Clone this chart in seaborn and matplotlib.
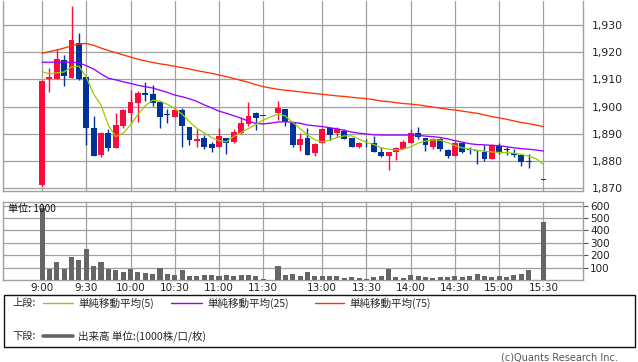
import numpy as np
import pandas as pd
import matplotlib
matplotlib.use("Agg")
import matplotlib.pyplot as plt
import seaborn as sns
from matplotlib.patches import Rectangle
from matplotlib.lines import Line2D

# ---------------- data ----------------
candle_slots = list(range(0, 31)) + list(range(32, 67)) + [68]
opens = [1871.0, 1910.1, 1910.1, 1917.1, 1910.6, 1923.5, 1910.7, 1892.2, 1882.2, 1890.1,
         1884.8, 1892.8, 1897.7, 1901.4, 1904.8, 1904.5, 1901.8, 1897.2, 1896.3, 1898.7,
         1892.6, 1887.3, 1888.5, 1886.2, 1885.2, 1888.3, 1886.8, 1890.1, 1893.6, 1897.5,
         1896.5,
         1897.7, 1899.1, 1893.8, 1885.8, 1888.5, 1882.8, 1886.5, 1892.0, 1890.1, 1891.1,
         1888.3, 1885.0, 1886.6, 1886.5, 1883.1, 1881.8, 1883.4, 1884.4, 1886.7, 1890.1,
         1888.3, 1885.0, 1888.0, 1884.0, 1881.8, 1886.5, 1884.2, 1883.8, 1883.4, 1880.7,
         1885.6, 1884.1, 1882.8, 1882.2, 1880.0,
         1873.0]
highs = [1909.6, 1914.1, 1921.0, 1919.0, 1937.0, 1927.2, 1910.9, 1896.5, 1890.8, 1891.7,
         1897.6, 1899.2, 1906.0, 1905.6, 1909.1, 1908.0, 1901.8, 1899.0, 1900.0, 1899.6,
         1892.6, 1891.7, 1889.5, 1887.0, 1892.0, 1888.5, 1891.7, 1896.0, 1901.8, 1898.1,
         1896.5,
         1902.1, 1899.1, 1893.8, 1890.1, 1892.0, 1886.5, 1892.0, 1892.5, 1892.6, 1891.7,
         1888.5, 1887.0, 1888.0, 1889.1, 1885.2, 1883.1, 1885.2, 1887.5, 1891.7, 1892.6,
         1888.5, 1888.5, 1888.3, 1884.5, 1887.3, 1886.7, 1885.0, 1884.0, 1886.0, 1886.2,
         1886.5, 1885.0, 1884.5, 1882.3, 1882.4,
         1873.0]
lows = [1870.8, 1905.5, 1910.0, 1907.7, 1910.4, 1909.8, 1885.8, 1881.9, 1881.5, 1883.7,
        1884.8, 1892.0, 1894.0, 1894.4, 1902.1, 1900.2, 1892.2, 1893.8, 1896.3, 1885.2,
        1885.8, 1885.2, 1884.3, 1883.4, 1885.2, 1882.4, 1886.5, 1890.0, 1893.0, 1891.4,
        1896.5,
        1895.0, 1893.0, 1885.0, 1883.7, 1882.0, 1881.8, 1886.5, 1887.7, 1888.9, 1888.0,
        1885.0, 1884.7, 1885.0, 1883.4, 1881.5, 1876.6, 1880.3, 1884.4, 1886.7, 1888.0,
        1883.7, 1884.5, 1883.7, 1881.0, 1881.8, 1883.0, 1882.4, 1879.0, 1880.0, 1880.7,
        1882.4, 1882.3, 1881.3, 1878.1, 1877.5,
        1873.0]
closes = [1909.4, 1910.9, 1917.5, 1911.2, 1924.5, 1910.0, 1892.2, 1881.9, 1890.1, 1884.8,
          1893.2, 1898.7, 1901.8, 1904.9, 1904.2, 1901.4, 1896.3, 1896.9, 1898.7, 1893.0,
          1887.7, 1888.0, 1885.2, 1884.8, 1889.1, 1886.5, 1890.7, 1894.0, 1896.5, 1895.9,
          1896.5,
          1899.6, 1894.4, 1885.8, 1888.0, 1882.2, 1886.2, 1891.7, 1889.5, 1891.7, 1888.0,
          1885.2, 1886.7, 1886.4, 1883.4, 1881.8, 1883.1, 1884.8, 1887.0, 1890.4, 1888.9,
          1885.8, 1888.0, 1884.4, 1881.8, 1886.5, 1883.4, 1883.9, 1883.6, 1880.6, 1885.8,
          1883.1, 1883.9, 1882.2, 1879.7, 1879.5,
          1873.0]
volume = [580, 89, 145, 89, 188, 161, 247, 113, 145, 89,
          81, 67, 89, 67, 54, 48, 94, 48, 40, 81,
          32, 32, 40, 40, 32, 40, 32, 40, 40, 32,
          5,
          113, 40, 48, 32, 62, 32, 32, 32, 32, 19,
          21, 13, 8, 27, 32, 89, 21, 13, 40, 32,
          21, 13, 21, 21, 32, 21, 32, 48, 32, 21,
          32, 21, 40, 48, 81,
          465]

ma_slots = list(range(0, 69))
ma5 = [1912.8, 1912.0, 1912.4, 1912.7, 1914.6, 1914.9, 1910.8, 1904.6, 1900.5, 1893.1,
       1888.9, 1890.2, 1893.2, 1897.0, 1900.3, 1902.3, 1902.0, 1900.8, 1899.3, 1897.2,
       1894.3, 1892.0, 1890.3, 1888.6, 1887.4, 1887.0, 1889.0, 1890.5, 1891.9, 1893.4,
       1895.0, 1896.2, 1897.2, 1896.5, 1894.2, 1891.8, 1889.6, 1887.7, 1887.0, 1887.6,
       1888.6, 1889.2, 1889.2, 1888.0, 1886.8, 1886.0, 1884.8, 1884.3, 1884.0, 1884.3,
       1885.2, 1886.5, 1887.3, 1887.7, 1887.6, 1886.7, 1885.6, 1884.8, 1884.3, 1883.9,
       1883.5, 1883.3, 1883.1, 1883.0, 1882.8, 1882.4, 1881.7, 1880.8, 1878.7]
ma25 = [1916.3, 1916.3, 1916.3, 1916.3, 1916.3, 1916.1, 1915.0, 1913.8, 1912.0, 1910.4,
        1909.8, 1909.1, 1908.5, 1907.8, 1907.3, 1906.8, 1906.0, 1905.2, 1904.2, 1903.6,
        1902.8, 1901.9, 1900.6, 1899.5, 1898.3, 1897.5, 1896.6, 1895.7, 1894.6, 1893.8,
        1893.6, 1893.9, 1894.3, 1894.4, 1894.2, 1893.8, 1893.2, 1892.9, 1892.6, 1892.2,
        1891.8, 1891.2, 1890.6, 1890.2, 1889.9, 1889.6, 1889.5, 1889.5, 1889.5, 1889.5,
        1889.5, 1889.4, 1889.1, 1888.9, 1888.6, 1888.1, 1887.4, 1886.9, 1886.3, 1886.0,
        1885.9, 1885.7, 1885.6, 1885.2, 1884.8, 1884.5, 1884.3, 1884.0, 1883.6]
ma75 = [1919.6, 1920.2, 1920.8, 1921.5, 1922.3, 1923.0, 1923.2, 1922.5, 1921.5, 1920.6,
        1919.8, 1919.0, 1918.2, 1917.4, 1916.8, 1916.2, 1915.7, 1915.3, 1914.8, 1914.3,
        1913.8, 1913.2, 1912.7, 1912.2, 1911.6, 1911.0, 1910.3, 1909.6, 1908.9, 1908.0,
        1907.3, 1906.8, 1906.3, 1906.0, 1905.7, 1905.4, 1905.1, 1904.8, 1904.5, 1904.2,
        1903.9, 1903.7, 1903.4, 1903.1, 1902.9, 1902.5, 1902.0, 1901.8, 1901.4, 1901.1,
        1900.9, 1900.6, 1900.2, 1899.8, 1899.4, 1899.0, 1898.7, 1898.3, 1897.9, 1897.5,
        1896.9, 1896.3, 1895.8, 1895.3, 1894.7, 1894.1, 1893.7, 1893.2, 1892.6]

time_label_slots = [0, 6, 12, 18, 24, 30, 38, 44, 50, 56, 62, 68]
time_labels = ["9:00", "9:30", "10:00", "10:30", "11:00", "11:30",
               "13:00", "13:30", "14:00", "14:30", "15:00", "15:30"]
price_ticks = [1870, 1880, 1890, 1900, 1910, 1920, 1930]
volume_ticks = [100, 200, 300, 400, 500, 600]

# ---------------- style ----------------
sns.set_style("white")
plt.rcParams["font.family"] = ["DejaVu Sans", "Noto Sans CJK JP"]
JP = ["Noto Sans CJK JP", "DejaVu Sans"]

RED = "#ff0a3c"
BLUE = "#003399"
C5, C25, C75 = "#99cc00", "#9900ff", "#ff3300"
GRID = "#a0a0a0"
VOLC = "#666666"

W, H = 638, 362
fig = plt.figure(figsize=(W / 100, H / 100), dpi=100)
fig.patch.set_facecolor("white")


def fx(x):
    return x / W


def fy(y):
    return 1 - y / H


ax = fig.add_axes([fx(3), fy(190.5), (583 - 3) / W, (190.5 - 0.5) / H])
axv = fig.add_axes([fx(3), fy(280), (583 - 3) / W, (280 - 202) / H])

XL = (-5.29, 73.36)

# ---------------- price panel ----------------
df = pd.DataFrame({"slot": candle_slots, "o": opens, "h": highs, "l": lows, "c": closes})
up = df["c"] > df["o"]
colors = np.where(up, RED, BLUE)
body_lo = np.minimum(df["o"], df["c"])
body_h = np.maximum(np.abs(df["c"] - df["o"]), 0.35)

ax.vlines(df["slot"], df["l"], df["h"], colors=colors, lw=1.0, zorder=3)
ax.bar(df["slot"], body_h, bottom=body_lo, width=0.8, color=colors,
       edgecolor="none", linewidth=0, zorder=4)

mdf = pd.DataFrame({"slot": ma_slots, "ma5": ma5, "ma25": ma25, "ma75": ma75})
sns.lineplot(data=mdf, x="slot", y="ma75", ax=ax, color=C75, lw=0.95, zorder=5)
sns.lineplot(data=mdf, x="slot", y="ma25", ax=ax, color=C25, lw=0.95, zorder=5)
sns.lineplot(data=mdf, x="slot", y="ma5", ax=ax, color=C5, lw=0.9, zorder=6)

ax.set_xlim(*XL)
ax.set_ylim(1869.1, 1939.0)
ax.set_yticks(price_ticks)
ax.set_yticklabels([f"{v:,}" for v in price_ticks])
ax.set_xticks(time_label_slots)
ax.set_xticklabels([])
ax.yaxis.tick_right()
ax.tick_params(axis="y", length=0, pad=6.5, labelsize=7.8, colors="#222222")
ax.tick_params(axis="x", length=0)
ax.grid(True, color=GRID, lw=0.9)
ax.set_axisbelow(True)
ax.set_xlabel("")
ax.set_ylabel("")
for s in ax.spines.values():
    s.set_color(GRID)
    s.set_linewidth(1.0)
ax.spines["top"].set_visible(False)

# ---------------- volume panel ----------------
vdf = pd.DataFrame({"slot": candle_slots, "vol": volume})
sns.barplot(data=vdf, x="slot", y="vol", ax=axv, native_scale=True, color=VOLC,
            width=0.68, saturation=1, errorbar=None, linewidth=0, zorder=3)
axv.set_xlim(*XL)
axv.set_ylim(0, 629)
axv.set_yticks(volume_ticks)
axv.set_yticklabels([str(v) for v in volume_ticks])
axv.set_xticks(time_label_slots)
axv.set_xticklabels(time_labels)
axv.yaxis.tick_right()
axv.tick_params(axis="y", length=3.5, width=0.8, color="#555555", pad=1.5,
                labelsize=7.5, labelcolor="#222222")
axv.tick_params(axis="x", length=0, pad=2.5, labelsize=7.5, labelcolor="#222222")
axv.grid(True, color=GRID, lw=0.9)
axv.set_axisbelow(True)
axv.set_xlabel("")
axv.set_ylabel("")
for s in axv.spines.values():
    s.set_color(GRID)
    s.set_linewidth(1.0)

fig.text(fx(8), fy(209), "単位: 1000", family=JP, fontsize=7.3, ha="left",
         va="center", color="#111111", zorder=10)

# ---------------- legend box ----------------
fig.patches.append(Rectangle((fx(3.5), fy(346.5)), (635 - 3.5) / W, (346.5 - 295) / H,
                             transform=fig.transFigure, fill=False,
                             edgecolor="#111111", lw=1.0))

ly1, ly2 = 303, 336
fig.text(fx(12), fy(ly1), "上段:", family=JP, fontsize=7.4, va="center", ha="left")
fig.text(fx(12), fy(ly2), "下段:", family=JP, fontsize=7.4, va="center", ha="left")

legend_items = [(43, 73, C5, "単純移動平均(5)"),
                (171, 202, C25, "単純移動平均(25)"),
                (315, 344, C75, "単純移動平均(75)")]
for x0, x1, col, label in legend_items:
    fig.lines.append(Line2D([fx(x0), fx(x1)], [fy(ly1), fy(ly1)],
                            transform=fig.transFigure, color=col, lw=1.0))
    fig.text(fx(x1 + 5), fy(ly1), label, family=JP, fontsize=7.6, va="center", ha="left")

fig.lines.append(Line2D([fx(43), fx(73)], [fy(ly2), fy(ly2)],
                        transform=fig.transFigure, color=VOLC, lw=2.6))
fig.text(fx(78), fy(ly2), "出来高 単位:(1000株/口/枚)", family=JP, fontsize=7.6,
         va="center", ha="left")

fig.text(fx(618), fy(357), "(c)Quants Research Inc.", fontsize=7, ha="right",
         va="center", color="#555555")

fig.savefig("out.png", dpi=100, facecolor="white")
